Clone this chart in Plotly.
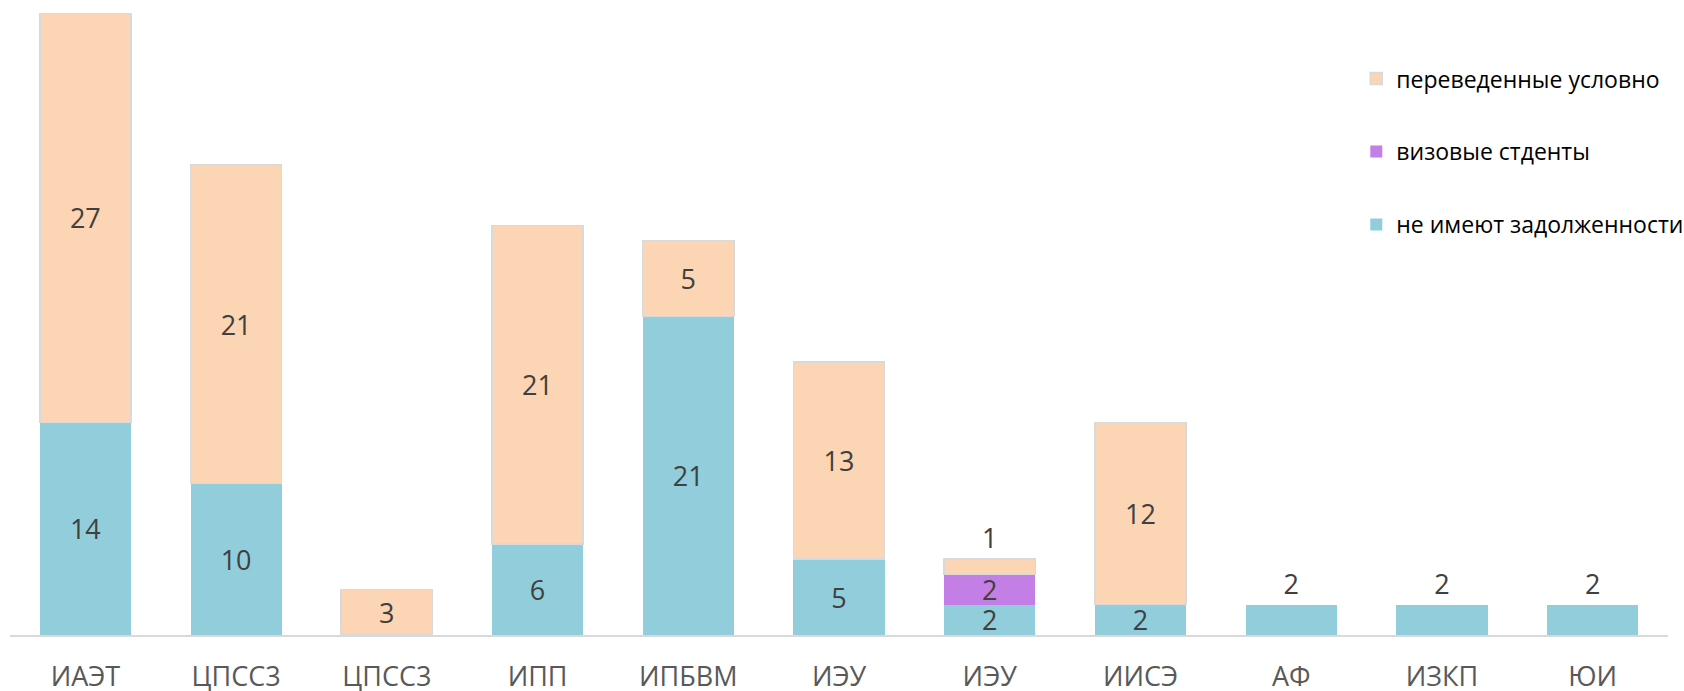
import plotly.graph_objects as go

categories = ["ИАЭТ", "ЦПСС3", "ЦПСС3", "ИПП", "ИПБВМ", "ИЭУ", "ИЭУ", "ИИСЭ", "АФ", "ИЗКП", "ЮИ"]
no_debt = [14, 10, None, 6, 21, 5, 2, 2, 2, 2, 2]
visa = [None, None, None, None, None, None, 2, None, None, None, None]
conditional = [27, 21, 3, 21, 5, 13, 1, 12, None, None, None]

series_names = ["не имеют задолженности", "визовые стденты", "переведенные условно"]
colors = ["#92CDDC", "#C47FE6", "#FCD5B5"]
legend_ranks = [3, 2, 1]
x = list(range(len(categories)))

FONT = "Open Sans"
LABEL_SIZE = 27

all_series = [no_debt, visa, conditional]


def is_top(idx, k):
    for later in all_series[k + 1:]:
        if later[idx] is not None:
            return False
    return True


fig = go.Figure()
for k, (vals, name, col) in enumerate(zip(all_series, series_names, colors)):
    pos = []
    for i, v in enumerate(vals):
        if v is not None and is_top(i, k) and v <= 2:
            pos.append("outside")
        else:
            pos.append("inside")
    fig.add_trace(go.Bar(
        x=x, y=vals, name=name,
        marker=dict(color=col,
                    line=dict(color="#D9D9D9" if k == 2 else col, width=1.5 if k == 2 else 0)),
        text=[str(v) if v is not None else None for v in vals],
        textposition=pos,
        textangle=0,
        insidetextanchor="middle",
        constraintext="none",
        cliponaxis=False,
        textfont=dict(family=FONT, size=LABEL_SIZE, color="#404040"),
        insidetextfont=dict(family=FONT, size=LABEL_SIZE, color="#404040"),
        outsidetextfont=dict(family=FONT, size=LABEL_SIZE, color="#404040"),
        legendgroup=name,
        legendrank=legend_ranks[k],
        hoverinfo="skip",
    ))

fig.update_layout(
    barmode="stack",
    bargap=0.395,
    width=1684, height=691,
    margin=dict(l=10, r=16, t=13, b=56, autoexpand=False),
    paper_bgcolor="white", plot_bgcolor="white",
    showlegend=True,
    legend=dict(
        x=0.812, y=0.929, xanchor="left", yanchor="top",
        traceorder="grouped",
        tracegroupgap=40,
        font=dict(family=FONT, size=23, color="#000000"),
        bgcolor="rgba(0,0,0,0)",
    ),
    xaxis=dict(
        tickmode="array", tickvals=x, ticktext=categories,
        range=[-0.5, len(categories) - 0.5],
        showgrid=False, zeroline=False,
        showline=True, linecolor="#D9D9D9", linewidth=2,
        ticks="", ticklabelstandoff=17, automargin=False,
        tickfont=dict(family=FONT, size=LABEL_SIZE, color="#595959"),
    ),
    yaxis=dict(visible=False, range=[0, 41], automargin=False),
)

fig.write_html(
    "out.html",
    config={"displayModeBar": False},
    post_script="document.body.style.margin='0';document.body.style.overflow='hidden';",
)
